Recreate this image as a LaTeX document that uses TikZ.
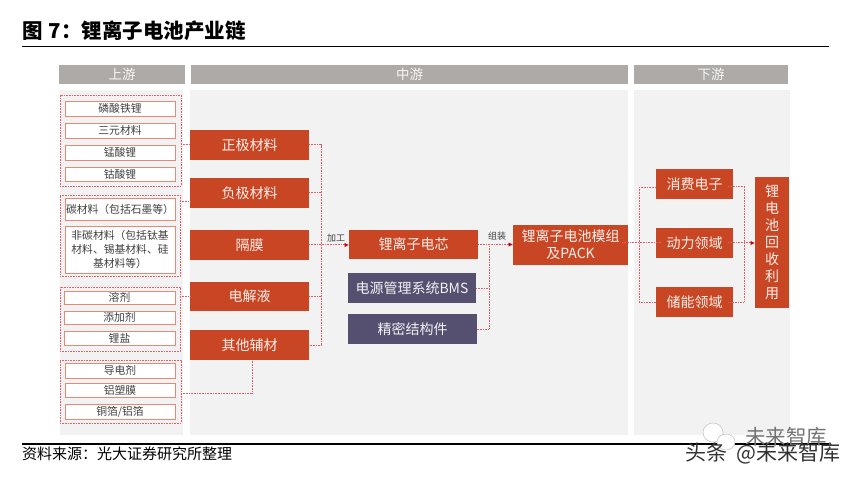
\documentclass[tikz,border=0pt]{standalone}
\usepackage{fontspec}
\setmainfont{Noto Sans CJK SC}
\usetikzlibrary{arrows.meta}
\definecolor{rd}{HTML}{C84623}
\definecolor{pu}{HTML}{565070}
\definecolor{hd}{HTML}{AEAAA8}
\definecolor{pn}{HTML}{F2F2F2}
\definecolor{dl}{HTML}{E0606A}
\definecolor{ib}{HTML}{E58A76}
\definecolor{tx}{HTML}{404040}
\newcommand{\bx}[6]{%
  \pgfmathsetmacro{\mx}{(#2+#4)/2}\pgfmathsetmacro{\my}{(#3+#5)/2}%
  \pgfmathsetmacro{\mw}{#4-#2}\pgfmathsetmacro{\mh}{#5-#3}%
  \node[#6,minimum width=\mw pt,minimum height=\mh pt] (#1) at (\mx,\my)}
\tikzset{
  base/.style={inner sep=0pt,outer sep=0pt,align=center,font=\fontsize{#1}{#1}\selectfont},
  base/.default=10.8,
  hdr/.style={base=13.5,fill=hd,text=white!90!hd},
  pnl/.style={base,fill=pn},
  grp/.style={base,draw=dl,dash pattern=on 1pt off 0.6pt,line width=0.9pt},
  itm/.style={base=10.8,draw=ib,line width=0.9pt,fill=white,text=tx},
  red/.style={base=14,fill=rd,text=white!92!rd},
  pur/.style={base=14,fill=pu,text=white!92!pu},
  con/.style={draw=dl,dash pattern=on 1pt off 0.6pt,line width=1pt},
  arr/.style={con,-{Latex[length=4.5pt,width=4.5pt,color=red!80!black]}},
  lab/.style={inner sep=0pt,outer sep=0pt,font=\fontsize{9}{9}\selectfont,text=tx},
}
\begin{document}
\begin{tikzpicture}[x=1pt,y=-1pt]
\useasboundingbox (0,0) rectangle (856,478);
% panels
\bx{pa}{60}{90}{183}{435}{pnl}{};
\bx{pb}{190}{90}{628}{435}{pnl}{};
\bx{pc}{634}{90}{790}{435}{pnl}{};
\bx{ha}{59}{65}{185}{84}{hdr}{上游};
\bx{hb}{191}{65}{628}{84}{hdr}{中游};
\bx{hc}{634}{65}{788}{84}{hdr}{下游};
% title
\node[anchor=west,inner sep=0pt,font=\fontsize{20.5}{20.5}\selectfont\bfseries] (title) at (22,31) {图\hspace{0.3em}7：锂离子电池产业链};
\coordinate (r1a) at (22,46.5); \coordinate (r1b) at (829,46.5);
\draw[line width=1.8pt] (r1a) -- (r1b);
\coordinate (r2a) at (22,444); \coordinate (r2b) at (829,444);
\draw[line width=1.8pt] (r2a) -- (r2b);
\node[anchor=west,inner sep=0pt,font=\fontsize{15}{15}\selectfont] (src) at (22,453.5) {资料来源：光大证券研究所整理};
% groups
\bx{ga}{60}{95}{181}{186}{grp}{};
\bx{gb}{60}{195}{180}{276}{grp}{};
\bx{gc}{60}{287}{180}{351}{grp}{};
\bx{gd}{60}{360}{181}{423}{grp}{};
% items
\bx{a1}{65}{101}{175}{116}{itm}{磷酸铁锂};
\bx{a2}{65}{123}{175}{138}{itm}{三元材料};
\bx{a3}{65}{145}{175}{160}{itm}{锰酸锂};
\bx{a4}{65}{167}{175}{181}{itm}{钴酸锂};
\bx{b1}{65}{198}{175}{220}{itm}{碳材料（包括石墨等）};
\bx{b2}{65}{226}{175}{273}{itm,font=\fontsize{10.8}{14}\selectfont}{非碳材料（包括钛基\\材料、锡基材料、硅\\基材料等）};
\bx{c1}{64}{291}{175}{304}{itm}{溶剂};
\bx{c2}{64}{311}{175}{324}{itm}{添加剂};
\bx{c3}{64}{331}{175}{345}{itm}{锂盐};
\bx{d1}{65}{363}{175}{378}{itm}{导电剂};
\bx{d2}{65}{383}{175}{397}{itm}{铝塑膜};
\bx{d3}{65}{404}{175}{419}{itm}{铜箔/铝箔};
% red materials
\bx{zj}{190}{130}{309}{160}{red}{正极材料};
\bx{fj}{190}{178}{309}{208}{red}{负极材料};
\bx{gm}{190}{230}{309}{260}{red}{隔膜};
\bx{dj}{190}{282}{309}{311}{red}{电解液};
\bx{qt}{190}{330}{309}{360}{red}{其他辅材};
% middle
\bx{dx}{349}{230}{478}{259}{red}{锂离子电芯};
\bx{bms}{348}{273}{476}{303}{pur}{电源管理系统BMS};
\bx{jm}{348}{314}{477}{344}{pur}{精密结构件};
\bx{pk}{513}{225}{628}{265}{red,font=\fontsize{14}{17}\selectfont}{锂离子电池模组\\及PACK};
% downstream
\bx{xf}{656}{169}{733}{199}{red}{消费电子};
\bx{dl1}{656}{228}{733}{258}{red}{动力领域};
\bx{cn}{656}{287}{733}{317}{red}{储能领域};
\bx{hs}{755}{177}{789}{308}{red,font=\fontsize{14}{17}\selectfont}{锂\\电\\池\\回\\收\\利\\用};
% upstream links
\draw[con] (ga.east |- zj.west) -- (zj.west);
\coordinate (fjin) at (190,202);
\draw[con] (gb.east |- fjin) -- (fjin);
\draw[con] (gc.east |- dj.west) -- (dj.west);
\coordinate (gdo) at (181,393);
\coordinate (qb) at (252,360);
\draw[con] (gdo) -| (qb);
% bus 1
\coordinate (bus1) at (321,245);
\draw[con] (zj.east) -| (bus1) |- (qt.east);
\draw[con] (fj.east) -- (fj.east -| bus1);
\draw[con] (dj.east) -- (dj.east -| bus1);
\draw[arr] (gm.east) -- (gm.east -| dx.west);
\node[lab] (jg) at (336,238) {加工};
% bus 2
\coordinate (bus2) at (489,265);
\draw[arr] (dx.east) -- (dx.east -| pk.west);
\draw[con] (bms.east) -- (bms.east -| bus2);
\draw[con] (dx.east -| bus2) -- (bus2) |- (jm.east);
\node[lab] (zz) at (497,236) {组装};
% downstream links
\coordinate (pkout) at (622,243);
\coordinate (busl) at (639,243);
\coordinate (busr) at (744,243);
\coordinate (xfl) at (656,188); \coordinate (xfr) at (728,187);
\coordinate (dlr) at (728,243); \coordinate (cnr) at (728,302);
\coordinate (dli) at (661,243);
\draw[con] (xfl) -| (busl) |- (cn.west);
\draw[con] (pkout) -- (dli);
\draw[con] (xfr) -| (busr) |- (cnr);
\draw[arr] (dlr) -- (dlr -| hs.west);
% watermark
\filldraw[fill=white,draw=black!25,line width=.5pt] (713,432.5) ellipse (10 and 9.5);
\filldraw[fill=white,draw=black!25,line width=.5pt] (726,442) ellipse (9 and 8);
\node[anchor=west,inner sep=0pt,font=\fontsize{20.5}{20.5}\selectfont,text=black!55] (wm1) at (745,437) {未来智库};
\node[anchor=west,inner sep=0pt,font=\fontsize{21}{21}\selectfont,text=black!80] (wm2) at (685,453) {头条\hspace{0.45em}@未来智库};
\end{tikzpicture}
\end{document}
